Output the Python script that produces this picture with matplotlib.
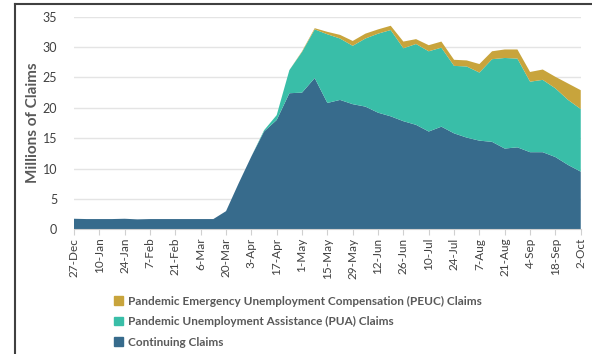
import numpy as np
import matplotlib
matplotlib.use('Agg')
import matplotlib.pyplot as plt
from matplotlib.patches import Patch
from matplotlib.lines import Line2D

plt.rcParams['font.family'] = ['Lato', 'DejaVu Sans']

# weekly, 27-Dec through 2-Oct
tick_labels = ['27-Dec', '10-Jan', '24-Jan', '7-Feb', '21-Feb', '6-Mar', '20-Mar',
               '3-Apr', '17-Apr', '1-May', '15-May', '29-May', '12-Jun', '26-Jun',
               '10-Jul', '24-Jul', '7-Aug', '21-Aug', '4-Sep', '18-Sep', '2-Oct']

continuing = [1.75, 1.7, 1.7, 1.7, 1.75, 1.65, 1.7, 1.7, 1.7, 1.7, 1.7, 1.7,
              3.0, 7.6, 12.0, 16.1, 18.0, 22.4, 22.5, 24.9, 20.8, 21.3, 20.6,
              20.2, 19.2, 18.6, 17.8, 17.2, 16.1, 16.9, 15.8, 15.1, 14.6, 14.4,
              13.3, 13.5, 12.7, 12.7, 11.9, 10.6, 9.5]
pua = [0] * 15 + [0.2, 0.8, 3.8, 6.7, 8.0, 11.3, 10.1, 9.6, 11.2, 13.0, 14.2,
                  12.0, 13.3, 13.2, 13.0, 11.1, 11.7, 11.2, 13.6, 14.9, 14.6,
                  11.6, 11.9, 11.3, 10.7, 10.3]
peuc = [0] * 18 + [0.1, 0.2, 0.4, 0.6, 0.8, 0.8, 0.7, 0.7, 1.1, 0.8, 1.0, 1.0,
                   1.0, 1.0, 1.4, 1.3, 1.4, 1.5, 1.6, 1.7, 1.9, 2.7, 3.1]

c_cont = '#376b8c'
c_pua = '#39bea8'
c_peuc = '#c8a43c'

weeks = np.arange(len(continuing))

fig = plt.figure(figsize=(5.92, 3.54), dpi=100)
ax = fig.add_axes([0.125, 0.352, 0.856, 0.601])

ax.stackplot(weeks, continuing, pua, peuc, colors=[c_cont, c_pua, c_peuc], linewidth=0)

ax.set_xlim(0, len(weeks) - 1)
ax.set_ylim(0, 35)
ax.set_yticks(range(0, 36, 5))
ax.set_xticks(weeks[::2])
ax.set_xticklabels(tick_labels, rotation=90, fontsize=8.5, color='#404040')
ax.tick_params(axis='y', length=0, labelsize=9, labelcolor='#404040', pad=12)
ax.tick_params(axis='x', length=4, color='#d0d0d0', pad=2)
ax.yaxis.grid(True, color='#e4e4e4', linewidth=1)
ax.set_axisbelow(True)
for s in ['top', 'right', 'left']:
    ax.spines[s].set_visible(False)
ax.spines['bottom'].set_color('#d0d0d0')
ax.set_ylabel('Millions of Claims', fontsize=11, fontweight='bold', color='#595959', labelpad=2)

handles = [Patch(color=c_peuc), Patch(color=c_pua), Patch(color=c_cont)]
labels = ['Pandemic Emergency Unemployment Compensation (PEUC) Claims',
          'Pandemic Unemployment Assistance (PUA) Claims',
          'Continuing Claims']
leg = fig.legend(handles, labels, loc='upper left', bbox_to_anchor=(0.185, 0.178),
                 frameon=False, fontsize=8.5, handlelength=0.75, handleheight=0.75,
                 handletextpad=0.4, labelspacing=0.8, borderaxespad=0)
for t in leg.get_texts():
    t.set_color('#595959')
    t.set_fontweight('bold')

# outer frame (cropped box)
fig.add_artist(Line2D([15 / 592, 15 / 592], [0, 1 - 4 / 354], color='#404040', lw=1.5))
fig.add_artist(Line2D([15 / 592, 1], [1 - 4 / 354, 1 - 4 / 354], color='#404040', lw=1.5))

fig.savefig('out.png', dpi=100)
